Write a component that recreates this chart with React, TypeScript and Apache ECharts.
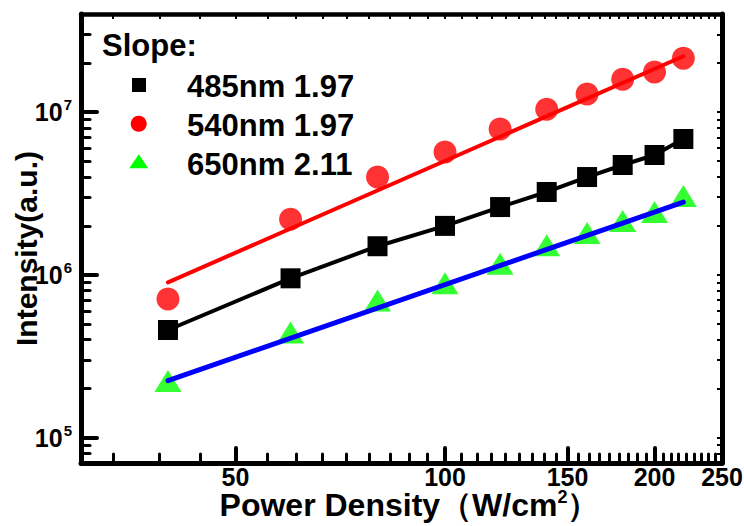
import React, { useEffect, useRef } from 'react';
import * as echarts from 'echarts';

const FONT = '"Liberation Sans", Arial, Helvetica, sans-serif';

// Power density (W/cm^2)
const powerDensity = [40, 60, 80, 100, 120, 140, 160, 180, 200, 220];
// Intensities (a.u.)
const int485 = [4.59e5, 9.53e5, 1.5e6, 2.0e6, 2.61e6, 3.23e6, 3.99e6, 4.73e6, 5.45e6, 6.83e6];
const int540 = [7.11e5, 2.2e6, 3.99e6, 5.68e6, 7.87e6, 1.04e7, 1.29e7, 1.59e7, 1.76e7, 2.14e7];
const int650 = [2.23e5, 4.43e5, 6.96e5, 8.9e5, 1.17e6, 1.52e6, 1.81e6, 2.14e6, 2.43e6, 3.05e6];
// Fit line end points
const fit540X = [40, 220];
const fit540Y = [9.0e5, 2.2e7];
const fit650X = [40, 220];
const fit650Y = [2.24e5, 2.8e6];

const seriesNames = ['485nm 1.97', '540nm 1.97', '650nm 2.11'];

// Axis ranges and ticks
const xMin = 30;
const xMax = 250;
const yMin = 7e4;
const yMax = 4e7;
const xMajorTicks = [50, 100, 150, 200];
const xTickLabels = [50, 100, 150, 200, 250];
const xMinorTicks: number[] = [];
for (let k = 0; k < 5; k++) {
  for (let j = 1; j < 9; j++) {
    const v = 50 * k + (j * 50) / 9;
    if (v > xMin && v < xMax) xMinorTicks.push(v);
  }
}
const yMajorTicks = [1e5, 1e6, 1e7];
const yMinorTicks = [
  8e4, 9e4,
  2e5, 3e5, 4e5, 5e5, 6e5, 7e5, 8e5, 9e5,
  2e6, 3e6, 4e6, 5e6, 6e6, 7e6, 8e6, 9e6,
  2e7, 3e7,
];

const zip = (xs: number[], ys: number[]) => xs.map((x, i) => [x, ys[i]]);

const GRID = { left: 81, right: 22, top: 14, bottom: 63, containLabel: false, outerBoundsMode: 'none' };

export default function App() {
  const ref = useRef<HTMLDivElement>(null);
  useEffect(() => {
    const chart = echarts.init(ref.current!, null, { renderer: 'svg' });
    const labelFont = {
      color: '#000',
      fontSize: 25,
      fontWeight: 'bold',
      fontFamily: FONT,
    };
    const xBase = { type: 'log', min: xMin, max: xMax, splitLine: { show: false } };
    const yBase = { type: 'log', min: yMin, max: yMax, splitLine: { show: false } };
    const option: any = {
      animation: false,
      backgroundColor: '#fff',
      grid: [{ ...GRID }, { ...GRID }, { ...GRID }],
      xAxis: [
        {
          ...xBase,
          gridIndex: 0,
          axisLine: { show: true, lineStyle: { color: '#000', width: 5 } },
          axisTick: {
            show: true,
            inside: true,
            length: 15,
            lineStyle: { color: '#000', width: 4, cap: 'round' },
            customValues: xMajorTicks,
          },
          axisLabel: {
            show: true,
            customValues: xTickLabels,
            ...labelFont,
            lineHeight: 18,
            margin: 5,
          },
          name: '{sp|}Power Density（W/cm{s|2}）',
          nameLocation: 'middle',
          nameGap: 28,
          nameMoveOverlap: false,
          nameTextStyle: {
            color: '#000',
            fontSize: 32,
            fontWeight: 'bold',
            fontFamily: FONT,
            lineHeight: 28,
            rich: {
              sp: { width: 16, fontSize: 32 },
              s: {
                fontSize: 18,
                fontWeight: 'bold',
                fontFamily: FONT,
                color: '#000',
                padding: [0, 0, 16, 0],
              },
            },
          },
        },
        {
          ...xBase,
          gridIndex: 1,
          axisLine: { show: false },
          axisTick: {
            show: true,
            inside: true,
            length: 9,
            lineStyle: { color: '#000', width: 3, cap: 'round' },
            customValues: xMinorTicks,
          },
          axisLabel: { show: false },
        },
        {
          ...xBase,
          gridIndex: 2,
          position: 'top',
          axisLine: { show: true, lineStyle: { color: '#000', width: 4.5 } },
          axisTick: {
            show: true,
            inside: true,
            length: 5,
            lineStyle: { color: '#000', width: 2 },
            customValues: [...xMajorTicks, ...xMinorTicks],
          },
          axisLabel: { show: false },
        },
      ],
      yAxis: [
        {
          ...yBase,
          gridIndex: 0,
          axisLine: { show: true, lineStyle: { color: '#000', width: 5 } },
          axisTick: {
            show: true,
            inside: true,
            length: 16,
            lineStyle: { color: '#000', width: 4, cap: 'round' },
            customValues: yMajorTicks,
          },
          axisLabel: {
            show: true,
            customValues: yMajorTicks,
            margin: 9,
            formatter: (v: number) => `{b|10}{s|${Math.round(Math.log10(v))}}`,
            rich: {
              b: { ...labelFont },
              s: {
                fontSize: 15,
                fontWeight: 'bold',
                fontFamily: FONT,
                color: '#000',
                padding: [0, 0, 15, 1],
              },
            },
          },
          name: 'Intensity(a.u.){sp|}',
          nameLocation: 'middle',
          nameRotate: 90,
          nameGap: 40,
          nameMoveOverlap: false,
          nameTextStyle: {
            color: '#000',
            fontSize: 30,
            fontWeight: 'bold',
            fontFamily: FONT,
            rich: {
              sp: { width: 20, fontSize: 30 },
            },
          },
        },
        {
          ...yBase,
          gridIndex: 1,
          axisLine: { show: false },
          axisTick: {
            show: true,
            inside: true,
            length: 9,
            lineStyle: { color: '#000', width: 3, cap: 'round' },
            customValues: yMinorTicks,
          },
          axisLabel: { show: false },
        },
        {
          ...yBase,
          gridIndex: 2,
          position: 'right',
          axisLine: { show: true, lineStyle: { color: '#000', width: 5 } },
          axisTick: {
            show: true,
            inside: true,
            length: 5,
            lineStyle: { color: '#000', width: 2 },
            customValues: [...yMajorTicks, ...yMinorTicks],
          },
          axisLabel: { show: false },
        },
      ],
      series: [
        {
          name: seriesNames[2],
          type: 'scatter',
          xAxisIndex: 0,
          yAxisIndex: 0,
          symbol: 'triangle',
          symbolSize: [27, 22],
          itemStyle: { color: '#00ff00' },
          data: zip(powerDensity, int650),
          z: 2,
        },
        {
          name: seriesNames[2] + ' fit',
          type: 'line',
          xAxisIndex: 0,
          yAxisIndex: 0,
          symbol: 'none',
          lineStyle: { color: '#0000ff', width: 5, cap: 'round' },
          data: zip(fit650X, fit650Y),
          z: 3,
        },
        {
          name: seriesNames[1] + ' fit',
          type: 'line',
          xAxisIndex: 0,
          yAxisIndex: 0,
          symbol: 'none',
          lineStyle: { color: '#ff0000', width: 4, cap: 'round' },
          data: zip(fit540X, fit540Y),
          z: 2,
        },
        {
          name: seriesNames[1],
          type: 'scatter',
          xAxisIndex: 0,
          yAxisIndex: 0,
          symbol: 'circle',
          symbolSize: 23,
          itemStyle: { color: '#ff0000' },
          data: zip(powerDensity, int540),
          z: 3,
        },
        {
          name: seriesNames[0],
          type: 'line',
          xAxisIndex: 0,
          yAxisIndex: 0,
          symbol: 'rect',
          symbolSize: 20,
          showSymbol: true,
          lineStyle: { color: '#000', width: 4 },
          itemStyle: { color: '#000' },
          data: zip(powerDensity, int485),
          z: 3,
        },
      ],
      graphic: [
        {
          type: 'text',
          x: 102,
          y: 45,
          style: {
            text: 'Slope:',
            fontSize: 31,
            fontWeight: 'bold',
            fontFamily: FONT,
            fill: '#000',
            verticalAlign: 'middle',
          },
        },
        { type: 'rect', shape: { x: 132, y: 78, width: 14, height: 14 }, style: { fill: '#000' } },
        { type: 'circle', shape: { cx: 138.7, cy: 123.7, r: 8 }, style: { fill: '#ff0000' } },
        {
          type: 'polygon',
          shape: { points: [[138.8, 154.3], [148.3, 168.3], [129.3, 168.3]] },
          style: { fill: '#00ff00' },
        },
        ...seriesNames.map((t, i) => ({
          type: 'text',
          x: 187,
          y: [86, 125, 164][i],
          style: {
            text: t,
            fontSize: 31,
            fontWeight: 'bold',
            fontFamily: FONT,
            fill: '#000',
            verticalAlign: 'middle',
          },
        })),
      ],
    };
    chart.setOption(option);
    return () => chart.dispose();
  }, []);
  return (
    <div
      ref={ref}
      style={{ position: 'absolute', left: 0, top: 0, width: 744, height: 526 }}
    />
  );
}
